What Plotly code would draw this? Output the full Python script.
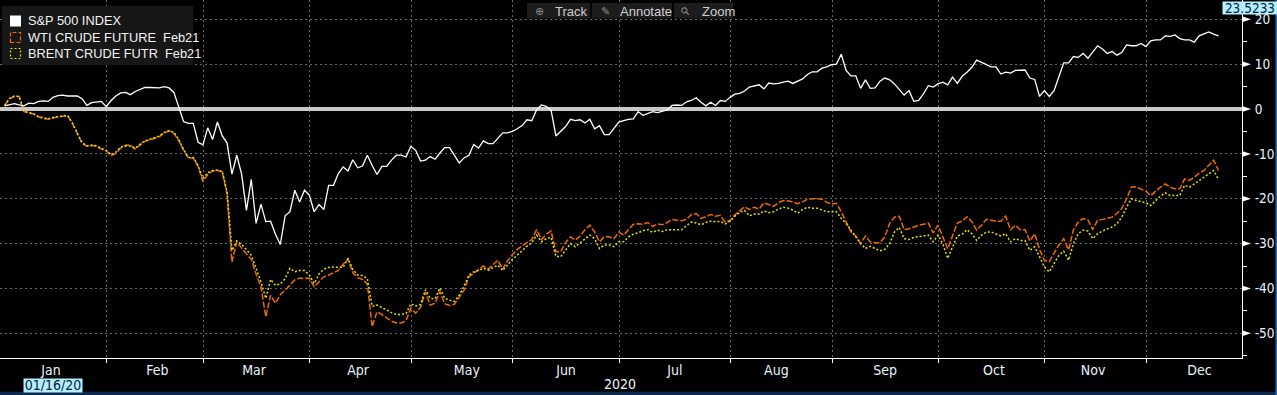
import pandas as pd
import plotly.graph_objects as go

# ---------------- data ----------------
# sessions on the chart's calendar (weekdays; Good Friday has no session)
NO_SESSION = ["2020-04-10"]
session_days = pd.bdate_range("2020-01-02", "2020-12-21")
session_days = session_days[~session_days.isin(pd.to_datetime(NO_SESSION))]
# each value is the session close, plotted at the end of its day
close_times = session_days + pd.Timedelta(hours=22)

series_names = ["S&amp;P 500 INDEX", "WTI CRUDE FUTURE\u00a0\u00a0Feb21", "BRENT CRUDE FUTR\u00a0\u00a0Feb21"]

spx_pct = [
    0.7, 1.0, 1.2, 0.9, 0.7, 1.3, 1.2, 1.7, 1.8, 1.7,
    2.6, 3.0, 3.1, 2.9, 2.9, 2.9, 2.3, 0.8, 1.4, 1.5,
    1.7, 0.5, 1.9, 2.9, 3.6, 3.7, 3.2, 3.9, 4.3, 4.8,
    4.8, 4.8, 4.7, 5.0, 4.7, 3.7, 0.3, -2.8, -3.2, -3.2,
    -7.4, -8.0, -4.2, -6.8, -2.9, -6.0, -7.6, -14.5, -10.3, -14.5,
    -22.6, -15.7, -25.5, -21.2, -25.1, -25.0, -27.9, -30.2, -23.8, -22.9,
    -18.1, -20.7, -18.1, -19.2, -22.9, -21.3, -22.4, -17.0, -17.0, -14.4,
    -12.9, -13.8, -11.3, -13.1, -12.7, -10.3, -12.6, -14.6, -12.8, -12.8,
    -11.4, -10.3, -10.3, -10.7, -8.3, -9.2, -11.6, -11.4, -10.6, -11.2,
    -9.8, -8.6, -8.6, -10.3, -12.0, -10.9, -10.3, -7.9, -8.7, -7.1,
    -7.7, -7.7, -6.6, -5.3, -5.3, -5.0, -4.4, -3.7, -2.4, -2.6,
    -0.2, 0.9, 0.6, -0.3, -6.0, -5.0, -3.9, -2.3, -2.6, -2.4,
    -3.1, -2.3, -4.4, -3.7, -5.7, -5.7, -4.2, -2.9, -2.6, -2.3,
    -2.2, -0.6, -1.4, -1.0, -0.6, -0.8, -0.5, -0.2, 0.8, 0.9,
    0.8, 1.6, 1.9, 2.5, 1.5, 0.7, 1.5, 0.8, 1.9, 1.7,
    2.6, 3.3, 3.5, 4.0, 4.9, 5.2, 5.4, 4.5, 5.8, 5.6,
    5.7, 6.0, 6.2, 5.7, 6.2, 6.7, 7.7, 8.3, 8.3, 9.1,
    9.4, 9.9, 10.0, 12.2, 8.6, 7.4, 7.4, 4.6, 6.5, 4.6,
    4.7, 6.2, 6.9, 6.5, 5.6, 4.3, 3.1, 4.1, 1.7, 1.9,
    3.4, 5.2, 4.9, 5.6, 6.0, 5.4, 7.1, 5.7, 7.3, 8.2,
    9.3, 10.9, 10.4, 9.8, 9.4, 9.4, 7.8, 8.2, 8.0, 8.6,
    8.7, 8.7, 6.9, 6.6, 2.8, 4.1, 2.8, 4.1, 7.2, 10.3,
    10.3, 11.7, 11.5, 12.4, 11.3, 12.8, 14.1, 13.4, 12.4, 12.8,
    12.0, 12.6, 14.3, 14.1, 14.1, 14.6, 13.9, 15.2, 15.4, 15.4,
    16.3, 16.2, 16.5, 15.7, 15.4, 15.4, 14.9, 16.3, 16.7, 17.2,
    16.7, 16.3,
]

wti_pct = [
    0.8, 2.3, 2.8, 2.8, -0.6, -0.9, -1.1, -1.8, -2.0, -2.3,
    -2.0, -1.7, -1.6, -1.5, -3.2, -5.6, -7.6, -8.3, -8.1, -8.3,
    -8.9, -9.3, -10.4, -9.9, -8.7, -8.1, -8.0, -8.9, -8.0, -7.2,
    -6.9, -6.5, -6.2, -5.3, -4.9, -5.4, -7.0, -9.2, -10.9, -10.9,
    -12.8, -16.2, -14.6, -13.8, -13.7, -14.0, -19.0, -34.1, -29.6, -31.0,
    -32.3, -33.5, -36.8, -39.6, -46.3, -41.5, -43.3, -41.4, -40.4, -39.2,
    -38.1, -37.7, -37.7, -37.7, -39.6, -38.6, -37.4, -37.0, -36.5, -36.0,
    -34.6, -33.4, -36.5, -37.6, -38.0, -39.0, -48.5, -45.2, -45.8, -46.6,
    -47.3, -47.7, -47.7, -47.2, -44.4, -45.5, -44.2, -40.8, -43.7, -43.3,
    -40.7, -43.4, -43.8, -43.5, -41.9, -40.4, -37.4, -36.6, -35.9, -35.0,
    -35.7, -34.7, -33.7, -35.7, -33.8, -32.5, -31.3, -30.5, -29.8, -29.1,
    -26.9, -29.1, -27.9, -27.2, -31.8, -31.8, -29.8, -28.5, -29.2, -28.3,
    -26.9, -25.9, -27.4, -29.6, -28.5, -28.5, -28.9, -27.4, -28.1, -26.8,
    -25.7, -25.6, -25.7, -25.3, -26.2, -25.6, -25.8, -25.3, -24.6, -24.8,
    -24.9, -24.6, -23.5, -23.3, -24.4, -24.0, -23.5, -23.9, -23.7, -25.2,
    -24.8, -23.6, -22.7, -21.8, -22.4, -21.9, -22.3, -20.9, -21.3, -21.7,
    -20.9, -20.4, -20.5, -20.7, -21.1, -20.7, -20.1, -20.0, -20.0, -20.1,
    -20.8, -21.2, -21.0, -22.9, -25.1, -27.4, -28.3, -30.0, -28.3, -29.6,
    -29.8, -29.8, -28.5, -25.5, -24.1, -23.9, -26.9, -26.7, -26.3, -25.9,
    -25.7, -25.4, -27.6, -25.9, -28.5, -31.1, -28.3, -25.4, -25.0, -24.0,
    -25.1, -27.0, -25.9, -24.6, -24.8, -25.0, -25.0, -23.9, -26.9, -25.9,
    -26.9, -26.9, -29.4, -27.8, -31.3, -33.7, -34.0, -32.2, -30.3, -28.9,
    -31.4, -27.0, -25.2, -24.4, -24.7, -26.9, -24.8, -24.6, -24.4, -24.1,
    -23.3, -22.2, -20.0, -17.4, -17.4, -17.8, -18.3, -19.3, -18.3, -17.4,
    -16.7, -17.4, -17.8, -17.8, -15.6, -15.9, -15.2, -14.3, -13.7, -12.6,
    -11.4, -13.7,
]

brent_pct = [
    0.8, 2.3, 2.9, 2.8, -0.5, -0.8, -1.1, -1.7, -2.0, -2.2,
    -1.9, -1.7, -1.5, -1.4, -3.1, -5.5, -7.5, -8.2, -8.1, -8.2,
    -8.8, -9.2, -10.2, -9.6, -8.5, -8.2, -8.3, -8.8, -7.8, -7.1,
    -6.8, -6.4, -6.0, -5.2, -4.8, -5.2, -6.8, -9.0, -10.8, -10.8,
    -12.6, -15.5, -14.2, -13.7, -13.6, -13.9, -18.5, -31.5, -29.4, -30.2,
    -31.3, -32.6, -35.5, -38.5, -42.2, -38.0, -39.3, -39.0, -37.8, -35.5,
    -36.3, -36.0, -36.0, -37.0, -38.9, -36.8, -35.7, -35.3, -35.2, -35.2,
    -35.3, -33.3, -35.8, -37.0, -37.1, -37.8, -44.0, -43.7, -44.2, -44.8,
    -45.4, -45.8, -45.8, -45.6, -43.4, -43.9, -43.6, -40.3, -42.2, -42.3,
    -39.9, -42.2, -42.6, -42.9, -41.5, -39.5, -37.0, -36.3, -36.0, -35.5,
    -35.9, -35.3, -34.8, -36.0, -34.8, -33.5, -32.6, -31.5, -30.6, -29.8,
    -28.1, -29.6, -28.9, -28.6, -32.9, -32.9, -31.5, -30.0, -30.7, -29.8,
    -28.9, -28.1, -28.9, -31.1, -30.3, -30.3, -30.7, -29.6, -29.6, -28.5,
    -27.9, -27.6, -27.1, -26.9, -27.5, -27.0, -27.3, -26.9, -26.9, -26.9,
    -26.9, -26.0, -25.2, -25.4, -25.8, -25.3, -25.0, -25.1, -25.1, -25.6,
    -25.0, -23.9, -23.0, -22.6, -23.8, -23.4, -23.4, -22.7, -23.1, -22.9,
    -22.3, -21.9, -22.1, -22.5, -23.2, -22.4, -21.9, -22.1, -22.1, -22.5,
    -22.9, -22.9, -22.9, -24.4, -25.5, -27.0, -28.5, -30.0, -31.1, -30.6,
    -31.1, -31.6, -31.3, -30.0, -27.4, -26.4, -28.9, -29.1, -28.6, -28.5,
    -28.3, -28.1, -29.6, -28.1, -30.0, -33.3, -30.7, -28.3, -27.9, -26.9,
    -27.8, -29.3, -28.1, -27.4, -27.4, -27.8, -28.3, -27.8, -29.6, -28.9,
    -29.3, -29.3, -31.5, -30.7, -33.1, -35.2, -36.3, -34.4, -32.6, -31.7,
    -33.7, -30.0, -27.8, -27.0, -27.2, -28.9, -27.8, -27.2, -26.7, -26.3,
    -25.6, -24.1, -21.9, -20.0, -20.4, -20.7, -20.9, -21.5, -20.5, -19.4,
    -18.7, -19.3, -19.3, -19.3, -17.0, -17.4, -16.7, -15.9, -15.2, -14.4,
    -13.7, -15.7,
]

y_tick_values = [-50, -40, -30, -20, -10, 0, 10, 20]
y_tick_labels = ["-50", "-40", "-30", "-20", "-10", "0", "10", "20"]
cursor_value_label = "23.5233"
cursor_date_label = "01/16/20"
year_label = "2020"
toolbar_labels = ["Track", "Annotate", "Zoom"]

assert len(close_times) == len(spx_pct) == len(wti_pct) == len(brent_pct)

# ---------------- style ----------------
W, H = 1277, 395
PW, PH = 1242, 358          # plot area size in px
NARROW = "Liberation Sans Narrow, Arial Narrow, DejaVu Sans Condensed, sans-serif"
REG = "Liberation Sans, Arial, sans-serif"
WHITE = "#ffffff"
ORANGE = "#ec6a00"
YELLOW = "#e4e400"
GRID = "#6a6a6a"
LABEL = "#eaf2ff"


def px(x):
    return x / PW


def py(y):
    return 1 - y / PH


fig = go.Figure()
fig.add_trace(go.Scatter(x=close_times, y=wti_pct, mode="lines", name=series_names[1],
                         line=dict(color=ORANGE, width=1.5, dash="6px,2px")))
fig.add_trace(go.Scatter(x=close_times, y=brent_pct, mode="lines", name=series_names[2],
                         line=dict(color=YELLOW, width=1.5, dash="2px,2px")))
fig.add_trace(go.Scatter(x=close_times, y=spx_pct, mode="lines", name=series_names[0],
                         line=dict(color=WHITE, width=1.3)))

shapes = []
annotations = []

# legend panel
shapes.append(dict(type="rect", xref="paper", yref="paper", x0=px(2), x1=px(193),
                   y0=py(65), y1=py(6), fillcolor="#171717", line=dict(width=0), layer="above"))
shapes.append(dict(type="rect", xref="paper", yref="paper", x0=px(10), x1=px(21),
                   y0=py(26.5), y1=py(15.5), fillcolor=WHITE, line=dict(width=0), layer="above"))
shapes.append(dict(type="rect", xref="paper", yref="paper", x0=px(10.5), x1=px(20.5),
                   y0=py(42.5), y1=py(32.5), fillcolor="rgba(0,0,0,0)",
                   line=dict(color=ORANGE, width=1.2, dash="4px,2px"), layer="above"))
shapes.append(dict(type="rect", xref="paper", yref="paper", x0=px(10.5), x1=px(20.5),
                   y0=py(58.5), y1=py(48.5), fillcolor="rgba(0,0,0,0)",
                   line=dict(color=YELLOW, width=1.2, dash="2px,2px"), layer="above"))
for name, yc in zip(series_names, [21, 37.5, 53.5]):
    annotations.append(dict(xref="paper", yref="paper", x=px(26), y=py(yc), text=name,
                            showarrow=False, xanchor="left", yanchor="middle",
                            font=dict(family=REG, size=12.8, color="#f2f2f2")))

# toolbar
buttons = [(527, 590, 539, 553), (592, 672, 605, 618), (674, 733, 685, 700)]
icons = ["\u2295", "\u270e", "\u26b2"]
for (x0, x1, xi, xt), lab, ic in zip(buttons, toolbar_labels, icons):
    shapes.append(dict(type="rect", xref="paper", yref="paper", x0=px(x0), x1=px(x1),
                       y0=py(18.5), y1=py(3), fillcolor="#1c1c1c", line=dict(width=0), layer="above"))
    annotations.append(dict(xref="paper", yref="paper", x=px(xt), y=py(11), text=lab,
                            showarrow=False, xanchor="left", yanchor="middle",
                            font=dict(family=REG, size=13, color="#cfcfcf")))
    annotations.append(dict(xref="paper", yref="paper", x=px(xi), y=py(11), text=ic,
                            showarrow=False, xanchor="center", yanchor="middle",
                            textangle=-45 if ic == "\u26b2" else 0,
                            font=dict(family="DejaVu Sans, sans-serif", size=11, color="#8c8c8c")))

# right-axis triangle markers at major ticks
for v in y_tick_values:
    shapes.append(dict(type="path", xref="paper", yref="y", xsizemode="pixel", ysizemode="pixel",
                       xanchor=1, yanchor=v, path="M0,-3 L9,0 L0,3 Z",
                       fillcolor=WHITE, line=dict(width=0), layer="above"))

# window frame accents
shapes.append(dict(type="rect", xref="paper", yref="paper", x0=px(0), x1=px(W),
                   y0=py(H + 2), y1=py(391.8), fillcolor="#0a2a52", line=dict(width=0), layer="above"))
shapes.append(dict(type="rect", xref="paper", yref="paper", x0=px(1275.5), x1=px(W + 2),
                   y0=py(H + 2), y1=py(0), fillcolor="#1f6fbf", line=dict(width=0), layer="above"))

# cursor read-outs and year label
annotations.append(dict(xref="paper", yref="paper", x=px(1249.5), y=py(7.8), text=cursor_value_label,
                        showarrow=False, xanchor="center", yanchor="middle", width=54, height=11.5,
                        bgcolor="#b3f0ff", borderpad=0,
                        font=dict(family=NARROW, size=13.5, color="#082040")))
annotations.append(dict(xref="paper", yref="paper", x=px(53), y=py(385.3), text=cursor_date_label,
                        showarrow=False, xanchor="center", yanchor="middle", width=58, height=12.5,
                        bgcolor="#b3f0ff", borderpad=0,
                        font=dict(family=NARROW, size=14, color="#082040")))
annotations.append(dict(xref="paper", yref="paper", x=px(620), y=py(383.5), text=year_label,
                        showarrow=False, xanchor="center", yanchor="middle",
                        font=dict(family=NARROW, size=14, color=LABEL)))

fig.update_layout(
    width=W, height=H,
    margin=dict(l=0, r=W - PW, t=0, b=H - PH, pad=0),
    paper_bgcolor="#000000", plot_bgcolor="#000000",
    showlegend=False, hovermode=False,
    shapes=shapes, annotations=annotations,
    xaxis=dict(
        type="date",
        range=["2019-12-31 23:00", "2020-12-29 18:45"],
        rangebreaks=[dict(bounds=["sat", "mon"]),
                     dict(values=["2020-01-01", "2020-04-10", "2020-12-25"])],
        tick0="2020-01-01", dtick="M1", tickformat="%b", ticklabelmode="period",
        ticks="outside", ticklen=4, tickcolor=WHITE, tickwidth=1,
        ticklabelstandoff=-5,
        showline=True, linecolor=WHITE, linewidth=1,
        showgrid=True, gridcolor=GRID, gridwidth=1, griddash="2px,3px",
        zeroline=False,
        tickfont=dict(family=NARROW, size=14, color=LABEL),
        fixedrange=True,
    ),
    yaxis=dict(
        side="right",
        range=[-55.5, 24.3],
        tickmode="array", tickvals=y_tick_values, ticktext=y_tick_labels,
        ticks="outside", ticklen=9, tickcolor="rgba(0,0,0,0)",
        minor=dict(tick0=0, dtick=5, ticks="outside", ticklen=4, tickcolor=WHITE,
                   tickwidth=1, showgrid=False),
        showline=True, linecolor=WHITE, linewidth=1,
        showgrid=True, gridcolor=GRID, gridwidth=1, griddash="2px,3px",
        zeroline=True, zerolinecolor="#c8c8c8", zerolinewidth=4,
        tickfont=dict(family=NARROW, size=13.5, color=LABEL),
        fixedrange=True,
    ),
)

fig.write_html(
    "out.html",
    config={"displayModeBar": False},
    post_script="document.body.style.margin='0';document.body.style.background='#000';"
                "document.body.style.overflow='hidden';",
)
